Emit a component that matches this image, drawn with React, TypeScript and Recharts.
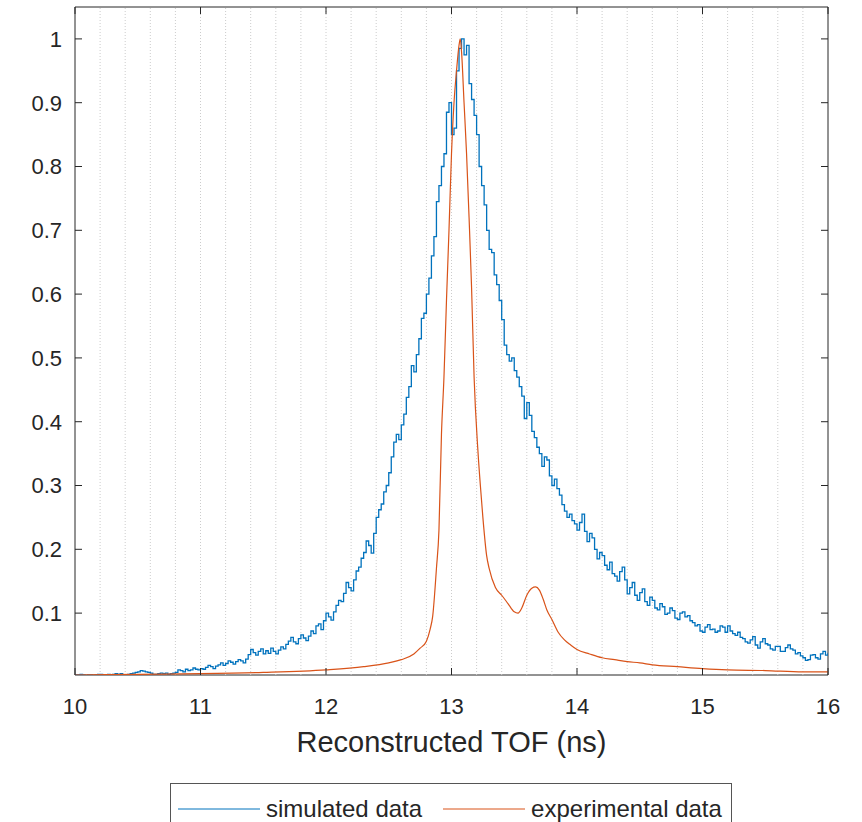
import {
  LineChart,
  Line,
  XAxis,
  YAxis,
  ReferenceLine,
  ReferenceArea,
  Legend,
} from "recharts";

// simulated histogram: bins of 0.02 ns starting at 10 ns
const SIM_START = 10;
const SIM_STEP = 0.02;
const simValues = [
  0.003, 0.003, 0.004, 0.003, 0.002, 0.003, 0.003, 0.002, 0.003, 0.004,
  0.004, 0.003, 0.003, 0.004, 0.003, 0.004, 0.005, 0.004, 0.005, 0.003,
  0.003, 0.004, 0.005, 0.006, 0.007, 0.008, 0.01, 0.009, 0.008, 0.007,
  0.006, 0.004, 0.004, 0.005, 0.006, 0.005, 0.006, 0.004, 0.005, 0.006,
  0.007, 0.011, 0.01, 0.008, 0.012, 0.01, 0.011, 0.014, 0.012, 0.011,
  0.013, 0.012, 0.015, 0.018, 0.016, 0.013, 0.017, 0.019, 0.022, 0.018,
  0.021, 0.025, 0.023, 0.02, 0.024, 0.027, 0.025, 0.022, 0.028, 0.035,
  0.043, 0.038, 0.034, 0.04, 0.044, 0.036, 0.041, 0.037, 0.045, 0.04,
  0.036, 0.042, 0.047, 0.044, 0.051, 0.056, 0.062, 0.055, 0.052, 0.06,
  0.066, 0.061, 0.057, 0.064, 0.072, 0.068, 0.08, 0.083, 0.074, 0.088,
  0.1, 0.094, 0.089, 0.102, 0.112, 0.12, 0.118, 0.131, 0.148, 0.14,
  0.135, 0.152, 0.166, 0.172, 0.186, 0.195, 0.213, 0.206, 0.194, 0.225,
  0.25, 0.262, 0.271, 0.29, 0.3, 0.32, 0.345, 0.368, 0.38, 0.372,
  0.395, 0.412, 0.438, 0.455, 0.488, 0.478, 0.505, 0.53, 0.562, 0.57,
  0.6, 0.625, 0.66, 0.69, 0.745, 0.77, 0.8, 0.82, 0.885, 0.9,
  0.85, 0.86, 0.95, 0.985, 1.0, 0.975, 0.99, 0.93, 0.905, 0.88,
  0.85, 0.8, 0.77, 0.74, 0.7, 0.67, 0.665, 0.63, 0.615, 0.59,
  0.56, 0.52, 0.505, 0.495, 0.5, 0.48, 0.47, 0.455, 0.44, 0.405,
  0.43, 0.41, 0.385, 0.375, 0.36, 0.35, 0.33, 0.345, 0.34, 0.315,
  0.3, 0.31, 0.295, 0.285, 0.27, 0.26, 0.25, 0.255, 0.245, 0.24,
  0.23, 0.242, 0.255, 0.228, 0.212, 0.225, 0.218, 0.2, 0.185, 0.195,
  0.19, 0.175, 0.168, 0.18, 0.162, 0.158, 0.15, 0.165, 0.172, 0.152,
  0.13, 0.14, 0.148, 0.128, 0.12, 0.132, 0.138, 0.118, 0.112, 0.125,
  0.12, 0.108, 0.105, 0.115, 0.11, 0.098, 0.1, 0.108, 0.104, 0.092,
  0.09, 0.1, 0.102, 0.094, 0.096, 0.088, 0.085, 0.08, 0.082, 0.072,
  0.07, 0.078, 0.082, 0.074, 0.075, 0.07, 0.072, 0.08, 0.078, 0.07,
  0.08, 0.072, 0.068, 0.065, 0.07, 0.062, 0.06, 0.055, 0.053, 0.058,
  0.063, 0.05, 0.045, 0.055, 0.06, 0.052, 0.05, 0.044, 0.042, 0.048,
  0.048, 0.04, 0.04, 0.046, 0.05, 0.044, 0.042, 0.036, 0.038, 0.033,
  0.03, 0.026, 0.027, 0.034, 0.035, 0.03, 0.028, 0.036, 0.04, 0.034,
  0.038,
];

// experimental curve, sampled unevenly (denser around the peak)
const expTimes = [
  10.0, 10.5, 11.0, 11.5, 12.0, 12.3, 12.5, 12.6, 12.7, 12.75,
  12.8, 12.83, 12.85, 12.88, 12.9, 12.92, 12.94, 12.96, 12.98, 13.0,
  13.02, 13.04, 13.06, 13.07, 13.08, 13.1, 13.12, 13.14, 13.16, 13.18,
  13.21, 13.23, 13.25, 13.28, 13.3, 13.35, 13.4, 13.45, 13.5, 13.53,
  13.56, 13.6, 13.64, 13.67, 13.7, 13.73, 13.76, 13.8, 13.85, 13.9,
  13.95, 14.0, 14.1, 14.2, 14.3, 14.4, 14.5, 14.6, 14.8, 15.0,
  15.2, 15.5, 15.8, 16.0,
];
const expValues = [
  0.003, 0.004, 0.005, 0.007, 0.011, 0.016, 0.022, 0.027, 0.036, 0.045,
  0.056, 0.075, 0.095, 0.17, 0.23, 0.38, 0.47, 0.59, 0.7, 0.82,
  0.9, 0.95, 0.99, 1.0, 0.98, 0.9, 0.82, 0.72, 0.61, 0.47,
  0.356, 0.3, 0.25, 0.19, 0.17, 0.14, 0.128, 0.115, 0.102, 0.1,
  0.108, 0.128, 0.139, 0.141, 0.136, 0.122, 0.105, 0.09, 0.07, 0.058,
  0.05, 0.043, 0.036, 0.03, 0.027, 0.024, 0.022, 0.019, 0.016, 0.013,
  0.011, 0.01, 0.008, 0.008,
];

const xTicks = [10, 11, 12, 13, 14, 15, 16];
const yTicks = [0.1, 0.2, 0.3, 0.4, 0.5, 0.6, 0.7, 0.8, 0.9, 1];
const minorGrid = [
  10.2, 10.4, 10.6, 10.8, 11, 11.2, 11.4, 11.6, 11.8, 12,
  12.2, 12.4, 12.6, 12.8, 13, 13.2, 13.4, 13.6, 13.8, 14,
  14.2, 14.4, 14.6, 14.8, 15, 15.2, 15.4, 15.6, 15.8,
];
const Y_MIN = 0.003;
const Y_MAX = 1.05;

const simData = simValues.map((v, i) => ({ t: SIM_START + i * SIM_STEP, v }));
const expData = expTimes.map((t, i) => ({ t, v: expValues[i] }));

const W = 862;
const H = 822;
const PLOT_TOP = 7;
const PLOT_RIGHT = 828;
const FONT = "'Liberation Sans', Arial, sans-serif";
const INK = "#262626";
const BLUE = "#0072BD";
const ORANGE = "#D95319";

function XTick(props: any) {
  const { x, y, payload } = props;
  return (
    <g>
      <line x1={x} x2={x} y1={y} y2={y - 7} stroke={INK} />
      <line x1={x} x2={x} y1={PLOT_TOP} y2={PLOT_TOP + 7} stroke={INK} />
      <text x={x} y={y + 39} textAnchor="middle" fill={INK} fontSize={22} fontFamily={FONT}>
        {payload.value}
      </text>
    </g>
  );
}

function YTick(props: any) {
  const { x, y, payload } = props;
  return (
    <g>
      <line x1={x} x2={x + 7} y1={y} y2={y} stroke={INK} />
      <line x1={PLOT_RIGHT - 7} x2={PLOT_RIGHT} y1={y} y2={y} stroke={INK} />
      <text x={x - 13} y={y} dy="0.36em" textAnchor="end" fill={INK} fontSize={22} fontFamily={FONT}>
        {payload.value}
      </text>
    </g>
  );
}

function LegendBox() {
  const item = (color: string, label: string, gap: number) => (
    <span style={{ display: "inline-flex", alignItems: "center", marginRight: gap }}>
      <svg width={82} height={4} style={{ marginRight: 6 }}>
        <line x1={0} x2={82} y1={2} y2={2} stroke={color} strokeWidth={1} />
      </svg>
      <span>{label}</span>
    </span>
  );
  return (
    <div
      style={{
        boxSizing: "border-box",
        width: 562,
        height: 44,
        border: "1px solid #555",
        background: "#fff",
        padding: "5px 0 0 7px",
        fontFamily: FONT,
        fontSize: 24,
        color: INK,
        whiteSpace: "nowrap",
        lineHeight: "28px",
      }}
    >
      {item(BLUE, "simulated data", 21)}
      {item(ORANGE, "experimental data", 0)}
    </div>
  );
}

export default function App() {
  return (
    <div style={{ position: "absolute", left: 0, top: 0, width: W, height: H, background: "#fff" }}>
      <LineChart
        width={W}
        height={H}
        margin={{ top: PLOT_TOP, right: W - PLOT_RIGHT, bottom: 62, left: 0 }}
      >
        <XAxis
          dataKey="t"
          type="number"
          domain={[10, 16]}
          ticks={xTicks}
          allowDataOverflow
          axisLine={false}
          tickLine={false}
          tickSize={0}
          tickMargin={0}
          height={85}
          tick={<XTick />}
          label={{
            value: "Reconstructed TOF (ns)",
            position: "insideBottom",
            offset: 8,
            fill: INK,
            fontSize: 29,
            fontFamily: FONT,
          }}
        />
        <YAxis
          type="number"
          domain={[Y_MIN, Y_MAX]}
          ticks={yTicks}
          allowDataOverflow
          axisLine={false}
          tickLine={false}
          tickSize={0}
          tickMargin={0}
          width={75}
          tick={<YTick />}
        />
        {minorGrid.map((g) => (
          <ReferenceLine key={g} x={g} stroke="#cccccc" strokeDasharray="1 2" strokeWidth={1} />
        ))}
        <Line
          data={simData}
          dataKey="v"
          type="stepAfter"
          stroke={BLUE}
          strokeWidth={1.3}
          dot={false}
          isAnimationActive={false}
          name="simulated data"
        />
        <Line
          data={expData}
          dataKey="v"
          type="monotone"
          stroke={ORANGE}
          strokeWidth={1.2}
          dot={false}
          isAnimationActive={false}
          name="experimental data"
        />
        <ReferenceArea
          x1={10}
          x2={16}
          y1={Y_MIN}
          y2={Y_MAX}
          fill="none"
          stroke={INK}
          strokeWidth={1}
          ifOverflow="visible"
        />
        <Legend
          verticalAlign="middle"
          align="center"
          layout="horizontal"
          wrapperStyle={{ position: "absolute", top: 783, left: 170, width: 562 }}
          content={() => <LegendBox />}
        />
      </LineChart>
    </div>
  );
}
